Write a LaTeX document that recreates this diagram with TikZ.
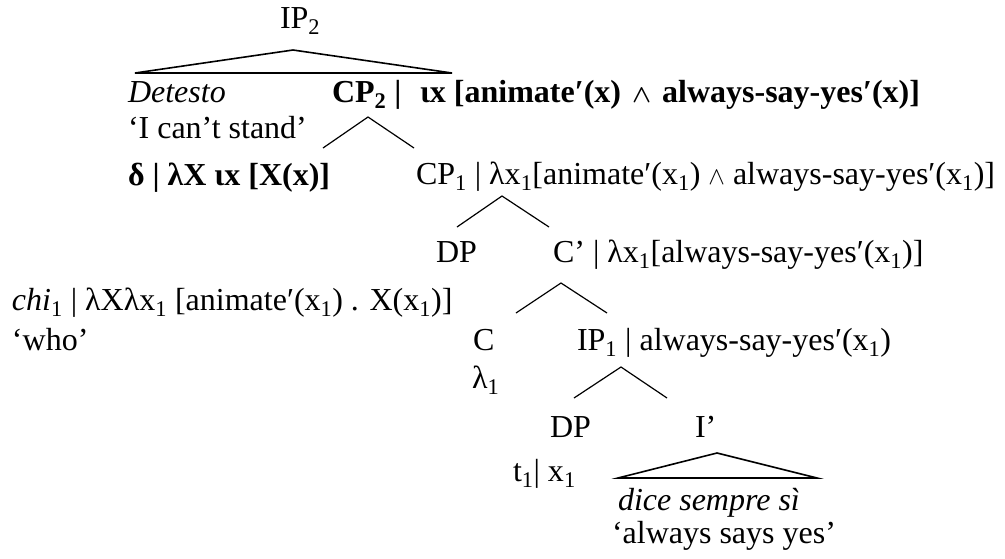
\documentclass[tikz,border=0pt]{standalone}
\usepackage{fontspec}
\setmainfont{Liberation Serif}
\begin{document}
\begin{tikzpicture}[x=1pt,y=-1pt,
  every node/.style={inner sep=0pt, outer sep=0pt, anchor=base west, font=\fontsize{32}{38}\selectfont},
  branch/.style={line width=1.2pt},
  roof/.style={line width=1.6pt, line join=miter}]
\useasboundingbox (0,0) rectangle (1005,558);
% labels
\node (ip2) at (280,28) {IP\textsubscript{2}};
\node (detesto) at (128,102) {\textit{Detesto}};
\node (cp2) at (332,102) {\textbf{CP\textsubscript{2} |}};
\node (cp2sem) at (420,102) {\textbf{ιx [animate′(x) \hspace{3pt}{\boldmath$\wedge$}\hspace{3pt} always-say-yes′(x)]}};
\node (cant) at (128,138) {‘I can’t stand’};
\node (delta) at (128,185) {\textbf{δ | λX ιx [X(x)]}};
\node (cp1) at (416,184) {CP\textsubscript{1} | λx\textsubscript{1}[animate′(x\textsubscript{1}) $\wedge$ always-say-yes′(x\textsubscript{1})]};
\node (dp1) at (436,262) {DP};
\node (cbar) at (553,262) {C’ | λx\textsubscript{1}[always-say-yes′(x\textsubscript{1})]};
\node (chi) at (12,310) {\textit{chi}\textsubscript{1} | λXλx\textsubscript{1} [animate′(x\textsubscript{1}) . X(x\textsubscript{1})]};
\node (who) at (12,350) {‘who’};
\node (c) at (473,350) {C};
\node (ip1) at (577,350) {IP\textsubscript{1} | always-say-yes′(x\textsubscript{1})};
\node (lam) at (472,388) {λ\textsubscript{1}};
\node (dp2) at (550,437) {DP};
\node (ibar) at (695,437) {I’};
\node (t1) at (513,481) {t\textsubscript{1}| x\textsubscript{1}};
\node (dice) at (618,510) {\textit{dice sempre sì}};
\node (says) at (612,543) {‘always says yes’};
% branch points
\coordinate (r1t) at (293,50); \coordinate (r1l) at (135,73); \coordinate (r1r) at (452,73);
\coordinate (b1t) at (368,117); \coordinate (b1l) at (323,148); \coordinate (b1r) at (414,148);
\coordinate (b2t) at (502,196); \coordinate (b2l) at (457,227); \coordinate (b2r) at (549,227);
\coordinate (b3t) at (561,283); \coordinate (b3l) at (516,313); \coordinate (b3r) at (607,313);
\coordinate (b4t) at (621,367); \coordinate (b4l) at (574,398); \coordinate (b4r) at (667,398);
\coordinate (r2t) at (717,453); \coordinate (r2l) at (618,478); \coordinate (r2r) at (817,478);
\draw[roof] (r1l) -- (r1t) -- (r1r) -- cycle;
\draw[branch] (b1l) -- (b1t) -- (b1r);
\draw[branch] (b2l) -- (b2t) -- (b2r);
\draw[branch] (b3l) -- (b3t) -- (b3r);
\draw[branch] (b4l) -- (b4t) -- (b4r);
\draw[roof] (r2l) -- (r2t) -- (r2r) -- cycle;
\end{tikzpicture}
\end{document}
